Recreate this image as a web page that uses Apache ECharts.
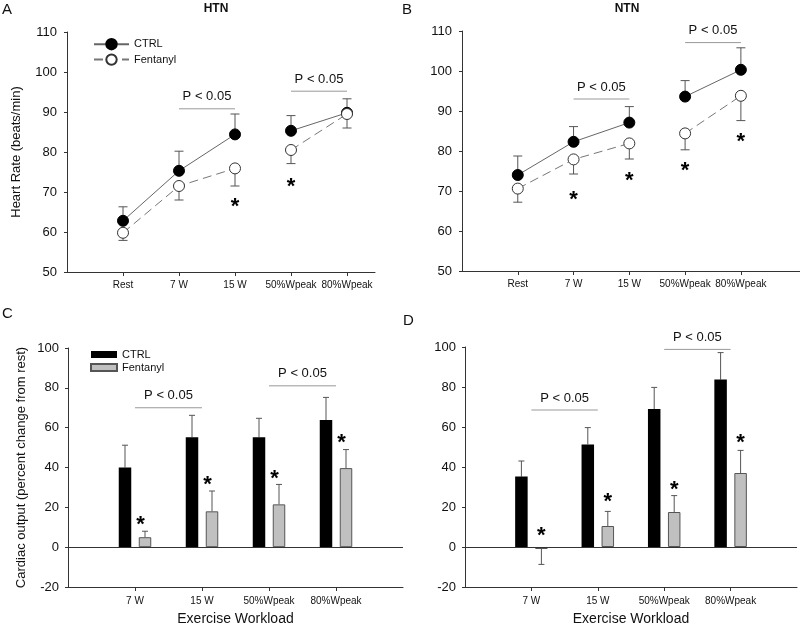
<!DOCTYPE html>
<html><head><meta charset="utf-8">
<script src="https://cdn.jsdelivr.net/npm/echarts@6/dist/echarts.min.js"></script>
<style>html,body{margin:0;padding:0;background:#fff}#c{width:800px;height:627px}</style>
</head><body><div id="c"></div>
<script>
// ---------- DATA ----------
const hrCategories = ['Rest', '7 W', '15 W', '50%Wpeak', '80%Wpeak'];
const htnHrCtrl = [62.8, 75.3, 84.4, 85.3, 89.8];
const htnHrCtrlSE = [3.5, 4.9, 5.1, 3.8, 3.5];
const htnHrFent = [59.8, 71.5, 75.9, 80.5, 89.5];
const htnHrFentSE = [1.9, 3.5, 4.4, 3.4, 3.5];
const ntnHrCtrl = [74.0, 82.3, 87.1, 93.6, 100.3];
const ntnHrCtrlSE = [4.75, 3.8, 4.0, 4.0, 5.5];
const ntnHrFent = [70.6, 77.9, 81.9, 84.4, 93.8];
const ntnHrFentSE = [3.4, 3.65, 3.9, 4.1, 6.2];
const hrSegmentBreakAfter = 3; // line is broken between 15 W and 50%Wpeak

const coCategories = ['7 W', '15 W', '50%Wpeak', '80%Wpeak'];
const htnCoCtrl = [40.0, 55.2, 55.2, 63.8];
const htnCoCtrlSE = [11.2, 11.0, 9.5, 11.4];
const htnCoFent = [5.0, 18.0, 21.5, 39.7];
const htnCoFentSE = [3.0, 10.2, 10.0, 9.3];
const ntnCoCtrl = [35.2, 51.3, 69.0, 83.7];
const ntnCoCtrlSE = [7.8, 8.4, 10.8, 13.5];
const ntnCoFent = [-1.0, 10.5, 17.5, 37.0];
const ntnCoFentSE = [7.7, 7.3, 8.2, 11.3];

// significance brackets: [fromCategory(1-based), toCategory, yValue]
const htnHrSig = [[2, 3, 90.8], [4, 5, 95.2]];
const ntnHrSig = [[2, 3, 93.0], [4, 5, 107.1]];
const htnCoSig = [[1, 2, 70.0], [3, 4, 81.0]];
const ntnCoSig = [[1, 2, 68.5], [3, 4, 98.8]];
const sigLabel = 'P < 0.05';

// asterisks: [category(1-based), yValue]
const htnHrStar = [[3, 67.6], [4, 72.6]];
const ntnHrStar = [[2, 69.0], [3, 73.8], [4, 76.3], [5, 83.6]];
const htnCoStar = [[1, 13.8], [2, 33.8], [3, 37.0], [4, 54.7]];
const ntnCoStar = [[1, 7.8], [2, 25.0], [3, 30.8], [4, 54.7]];

const hrTicks = [50, 110, 10];
const coTicks = [-20, 100, 20];

// ---------- STYLE ----------
const FONT = 'Liberation Sans, Arial, sans-serif';
const TXT = '#111';
const AX = '#333';
const ERR = '#555';
const SIG = '#999';

function lineData(vals) {
  const out = [];
  vals.forEach((v, i) => {
    if (i === hrSegmentBreakAfter) out.push([i + 0.5, '-']);
    out.push([i + 1, v]);
  });
  return out;
}
function errRender(offsetPx, dir, cap) {
  return function (params, api) {
    const x = api.value(0), v = api.value(1), se = api.value(2);
    const d = dir === 0 ? (v < 0 ? -1 : 1) : dir;
    const p0 = api.coord([x, v]);
    const p1 = api.coord([x, v + d * se]);
    const cx = p0[0] + offsetPx;
    return {
      type: 'group', children: [
        { type: 'line', shape: { x1: cx, y1: p0[1], x2: cx, y2: p1[1] }, style: { stroke: ERR, lineWidth: 1 } },
        { type: 'line', shape: { x1: cx - cap, y1: p1[1], x2: cx + cap, y2: p1[1] }, style: { stroke: ERR, lineWidth: 1 } }
      ]
    };
  };
}
function sigRender(params, api) {
  const a = api.coord([api.value(0), api.value(2)]);
  const b = api.coord([api.value(1), api.value(2)]);
  return {
    type: 'group', children: [
      { type: 'line', shape: { x1: a[0], y1: a[1], x2: b[0], y2: b[1] }, style: { stroke: SIG, lineWidth: 1 } },
      { type: 'text', style: { text: sigLabel, x: (a[0] + b[0]) / 2, y: a[1] - 12, align: 'center', verticalAlign: 'middle', font: '13px ' + FONT, fill: TXT } }
    ]
  };
}
function starRender(offsetPx) {
  return function (params, api) {
    const p = api.coord([api.value(0), api.value(1)]);
    return { type: 'text', style: { text: '*', x: p[0] + offsetPx, y: p[1] + 5, align: 'center', verticalAlign: 'middle', font: 'bold 22px ' + FONT, fill: '#000' } };
  };
}

const grids = [
  { left: 67, top: 32, width: 308, height: 240 },
  { left: 462, top: 31, width: 338, height: 240 },
  { left: 68, top: 348, width: 335, height: 240 },
  { left: 465, top: 347, width: 335, height: 240 }
];

function hrX(gi, max) {
  return {
    type: 'value', gridIndex: gi, min: 0, max: max,
    axisLine: { lineStyle: { color: AX } },
    axisTick: { customValues: [1, 2, 3, 4, 5], length: 4, lineStyle: { color: AX } },
    axisLabel: { customValues: [1, 2, 3, 4, 5], formatter: v => hrCategories[v - 1] || '', fontSize: 10, color: TXT, fontFamily: FONT, margin: 8 },
    splitLine: { show: false }
  };
}
function hrY(gi, name) {
  return {
    type: 'value', gridIndex: gi, min: hrTicks[0], max: hrTicks[1], interval: hrTicks[2],
    axisLine: { show: true, lineStyle: { color: AX } },
    axisTick: { show: true, length: 3, lineStyle: { color: AX } },
    axisLabel: { fontSize: 13, color: TXT, fontFamily: FONT, margin: 10 },
    splitLine: { show: false },
    name: name, nameLocation: 'middle', nameGap: 44,
    nameTextStyle: { fontSize: 13, color: TXT, fontFamily: FONT }
  };
}
const coAxisCats = [''].concat(coCategories, ['']);
function coX(gi) {
  return {
    type: 'category', gridIndex: gi, data: coAxisCats, boundaryGap: false,
    axisLine: { onZero: false, lineStyle: { color: AX } },
    axisTick: { interval: (i, v) => v !== '', length: 4, lineStyle: { color: AX } },
    axisLabel: { interval: 0, fontSize: 10, color: TXT, fontFamily: FONT, margin: 9 },
    splitLine: { show: false },
    name: 'Exercise Workload', nameLocation: 'middle', nameGap: 25,
    nameTextStyle: { fontSize: 14, color: TXT, fontFamily: FONT }
  };
}
function coY(gi, name) {
  return {
    type: 'value', gridIndex: gi, min: coTicks[0], max: coTicks[1], interval: coTicks[2],
    axisLine: { show: true, lineStyle: { color: AX } },
    axisTick: { show: true, length: 3, lineStyle: { color: AX } },
    axisLabel: { fontSize: 13, color: TXT, fontFamily: FONT, margin: 9 },
    splitLine: { show: false },
    name: name, nameLocation: 'middle', nameGap: 40,
    nameTextStyle: { fontSize: 13, color: TXT, fontFamily: FONT }
  };
}

function hrSeries(gi, ctrl, ctrlSE, fent, fentSE, sig, star) {
  return [
    { type: 'custom', name: 'errC' + gi, xAxisIndex: gi, yAxisIndex: gi, z: 1, silent: true,
      renderItem: errRender(0, 1, 4.5), data: ctrl.map((v, i) => [i + 1, v, ctrlSE[i]]) },
    { type: 'custom', name: 'errF' + gi, xAxisIndex: gi, yAxisIndex: gi, z: 1, silent: true,
      renderItem: errRender(0, -1, 4.5), data: fent.map((v, i) => [i + 1, v, fentSE[i]]) },
    { type: 'line', name: 'CTRL', xAxisIndex: gi, yAxisIndex: gi, z: 3, data: lineData(ctrl),
      symbol: 'circle', symbolSize: 11, connectNulls: false,
      itemStyle: { color: '#000', borderColor: '#000', borderWidth: 1 },
      lineStyle: { color: '#666', width: 1 } },
    { type: 'line', name: 'Fentanyl', xAxisIndex: gi, yAxisIndex: gi, z: 3, data: lineData(fent),
      symbol: 'circle', symbolSize: 11, connectNulls: false,
      itemStyle: { color: '#fff', borderColor: '#333', borderWidth: 1 },
      lineStyle: { color: '#777', width: 1, type: [9, 5] } },
    { type: 'custom', name: 'sig' + gi, xAxisIndex: gi, yAxisIndex: gi, silent: true,
      renderItem: sigRender, data: sig },
    { type: 'custom', name: 'star' + gi, xAxisIndex: gi, yAxisIndex: gi, silent: true,
      renderItem: starRender(0), data: star }
  ];
}
function pad(vals) { return ['-'].concat(vals, ['-']); }
function coSeries(gi, ctrl, ctrlSE, fent, fentSE, sig, star, starOff) {
  return [
    { type: 'bar', name: 'CTRL (CO)', xAxisIndex: gi, yAxisIndex: gi, data: pad(ctrl),
      barWidth: 12.5, barGap: '60%', itemStyle: { color: '#000', borderColor: '#000', borderWidth: 0 },
      markLine: { silent: true, symbol: 'none', label: { show: false }, lineStyle: { color: AX, width: 1, type: 'solid' }, data: [{ yAxis: 0 }] } },
    { type: 'bar', name: 'Fentanyl (CO)', xAxisIndex: gi, yAxisIndex: gi, data: pad(fent),
      barWidth: 12.5, barGap: '60%', itemStyle: { color: '#c0c0c0', borderColor: '#555', borderWidth: 1 } },
    { type: 'custom', name: 'cerrC' + gi, xAxisIndex: gi, yAxisIndex: gi, z: 1, silent: true,
      renderItem: errRender(-10, 1, 3), data: ctrl.map((v, i) => [i + 1, v, ctrlSE[i]]) },
    { type: 'custom', name: 'cerrF' + gi, xAxisIndex: gi, yAxisIndex: gi, z: 1, silent: true,
      renderItem: errRender(10, 0, 3), data: fent.map((v, i) => [i + 1, v, fentSE[i]]) },
    { type: 'custom', name: 'csig' + gi, xAxisIndex: gi, yAxisIndex: gi, silent: true,
      renderItem: sigRender, data: sig },
    { type: 'custom', name: 'cstar' + gi, xAxisIndex: gi, yAxisIndex: gi, silent: true,
      renderItem: starRender(starOff), data: star }
  ];
}

const option = {
  animation: false,
  backgroundColor: '#fff',
  textStyle: { fontFamily: FONT },
  grid: grids,
  xAxis: [hrX(0, 5.5), hrX(1, 6.06), coX(2), coX(3)],
  yAxis: [hrY(0, 'Heart Rate (beats/min)'), hrY(1, ''), coY(2, 'Cardiac output (percent change from rest)'), coY(3, '')],
  legend: [
    { data: ['CTRL', 'Fentanyl'], left: 88, top: 33, orient: 'vertical', itemWidth: 35, itemHeight: 13, itemGap: 3,
      selectedMode: false, textStyle: { fontSize: 11, color: TXT, fontFamily: FONT } },
    { data: ['CTRL (CO)', 'Fentanyl (CO)'], formatter: n => n.replace(' (CO)', ''), left: 85, top: 344, orient: 'vertical',
      itemWidth: 26, itemHeight: 7, itemGap: 2, icon: 'rect', selectedMode: false,
      textStyle: { fontSize: 11, color: TXT, fontFamily: FONT } }
  ],
  graphic: [
    { type: 'text', x: 2, y: 2, style: { text: 'A', font: '15px ' + FONT, fill: TXT } },
    { type: 'text', x: 216, y: 3, style: { text: 'HTN', font: 'bold 12px ' + FONT, fill: TXT, textAlign: 'center' } },
    { type: 'text', x: 402, y: 2, style: { text: 'B', font: '15px ' + FONT, fill: TXT } },
    { type: 'text', x: 627, y: 3, style: { text: 'NTN', font: 'bold 12px ' + FONT, fill: TXT, textAlign: 'center' } },
    { type: 'text', x: 2, y: 306, style: { text: 'C', font: '15px ' + FONT, fill: TXT } },
    { type: 'text', x: 403, y: 313, style: { text: 'D', font: '15px ' + FONT, fill: TXT } }
  ],
  series: [].concat(
    hrSeries(0, htnHrCtrl, htnHrCtrlSE, htnHrFent, htnHrFentSE, htnHrSig, htnHrStar),
    hrSeries(1, ntnHrCtrl, ntnHrCtrlSE, ntnHrFent, ntnHrFentSE, ntnHrSig, ntnHrStar),
    coSeries(2, htnCoCtrl, htnCoCtrlSE, htnCoFent, htnCoFentSE, htnCoSig, htnCoStar, 5.5),
    coSeries(3, ntnCoCtrl, ntnCoCtrlSE, ntnCoFent, ntnCoFentSE, ntnCoSig, ntnCoStar, 10)
  )
};
const chart = echarts.init(document.getElementById('c'), null, { renderer: 'canvas' });
chart.setOption(option);
</script>
</body></html>
